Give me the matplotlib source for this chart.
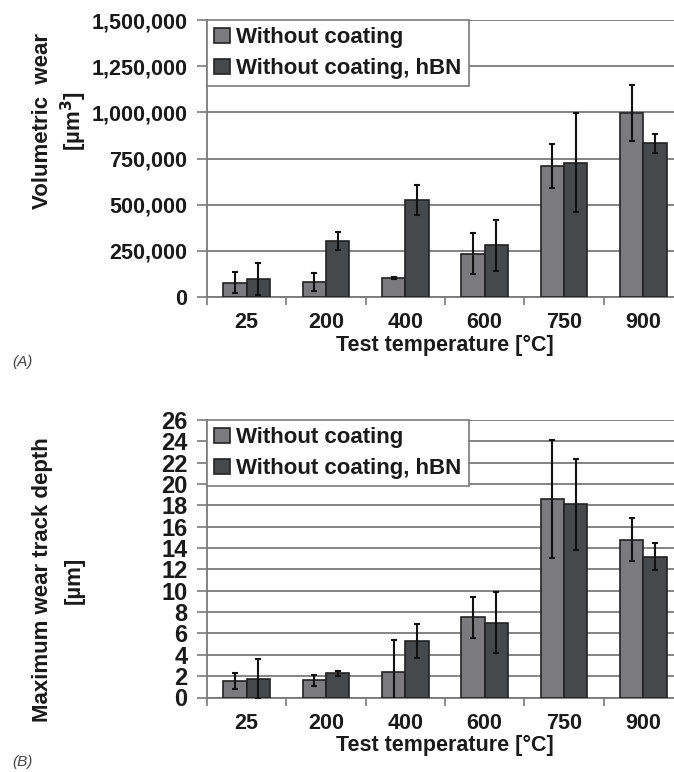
import matplotlib
matplotlib.use("Agg")
import matplotlib.pyplot as plt
import numpy as np
from matplotlib.ticker import FuncFormatter

plt.rcParams['font.family'] = ['Liberation Sans', 'DejaVu Sans']

categories = ["25", "200", "400", "600", "750", "900"]
series_names = ["Without coating", "Without coating, hBN"]

vol_plain = [78000, 82000, 101000, 234000, 710000, 996000]
vol_plain_err = [55000, 50000, 5000, 112000, 118000, 150000]
vol_hbn = [96000, 303000, 525000, 279000, 727000, 832000]
vol_hbn_err = [87000, 49000, 80000, 139000, 269000, 52000]

depth_plain = [1.5, 1.6, 2.35, 7.5, 18.6, 14.8]
depth_plain_err = [0.75, 0.55, 3.0, 1.9, 5.5, 2.0]
depth_hbn = [1.75, 2.25, 5.3, 7.0, 18.1, 13.2]
depth_hbn_err = [1.9, 0.2, 1.6, 2.85, 4.25, 1.25]

vol_ticks = [0, 250000, 500000, 750000, 1000000, 1250000, 1500000]
depth_ticks = list(range(0, 27, 2))

c_plain = "#7b7b7e"
c_hbn = "#47484a"
edge = "#222222"
grid_c = "#7a7a7a"
txt_c = "#1a1a1a"
FS = 15.5

fig = plt.figure(figsize=(6.74, 7.72), dpi=100)
W, H = 674, 772

def make_ax(top_px, bot_px):
    left = 207 / W
    width = 476 / W
    return fig.add_axes([left, 1 - bot_px / H, width, (bot_px - top_px) / H])

def draw(ax, a, ae, b, be, ticks, fmt, yfs):
    x = np.arange(len(categories))
    w = 0.295
    ekw = dict(ecolor="#111111", elinewidth=1.5, capsize=2.5, capthick=1.5)
    ax.bar(x - w / 2, a, w, color=c_plain, edgecolor=edge, linewidth=1.2,
           yerr=ae, error_kw=ekw, label=series_names[0], zorder=3)
    ax.bar(x + w / 2, b, w, color=c_hbn, edgecolor=edge, linewidth=1.2,
           yerr=be, error_kw=ekw, label=series_names[1], zorder=3)
    ax.set_xlim(-0.5, len(categories) - 0.5)
    ax.set_ylim(ticks[0], ticks[-1])
    ax.set_yticks(ticks)
    ax.yaxis.set_major_formatter(FuncFormatter(fmt))
    ax.set_xticks(x)
    ax.set_xticklabels(categories, fontsize=FS, fontweight="bold", color=txt_c)
    ax.set_xticks(np.arange(len(categories) + 1) - 0.5, minor=True)
    ax.tick_params(axis="x", which="major", length=0, pad=11)
    ax.tick_params(axis="x", which="minor", length=6, width=1.2, color=grid_c, direction="out")
    ax.tick_params(axis="y", length=7, width=1.2, color=grid_c, direction="out",
                   labelsize=yfs, labelcolor=txt_c, pad=7)
    for lbl in ax.get_yticklabels():
        lbl.set_fontweight("bold")
    ax.grid(axis="y", color=grid_c, linewidth=1.3, zorder=0)
    ax.set_axisbelow(True)
    for s in ["top", "right"]:
        ax.spines[s].set_visible(False)
    for s in ["left", "bottom"]:
        ax.spines[s].set_color(grid_c)
        ax.spines[s].set_linewidth(1.3)
    leg = ax.legend(loc="upper left", bbox_to_anchor=(0, 1), borderaxespad=0,
                    fancybox=False, framealpha=1, edgecolor=grid_c,
                    prop=dict(size=FS + 0.5, weight="bold"), handlelength=0.7, handleheight=0.7,
                    handletextpad=0.3, labelspacing=0.45, borderpad=0.32)
    leg.get_frame().set_linewidth(1.2)
    for t in leg.get_texts():
        t.set_color(txt_c)
    leg.set_zorder(5)
    ax.set_xlabel("Test temperature [°C]", fontsize=FS, fontweight="bold", color=txt_c, labelpad=1)

ax1 = make_ax(20, 297)
draw(ax1, vol_plain, vol_plain_err, vol_hbn, vol_hbn_err, vol_ticks,
     lambda v, p: f"{int(v):,}", FS)
ax2 = make_ax(420, 697.5)
draw(ax2, depth_plain, depth_plain_err, depth_hbn, depth_hbn_err, depth_ticks,
     lambda v, p: f"{int(v)}", FS + 1.5)

fig.text(43 / W, 1 - 121 / H, "Volumetric  wear", rotation=90, ha="center", va="center",
         fontsize=FS + 0.5, fontweight="bold", color=txt_c)
fig.text(74 / W, 1 - 121 / H, "[µm$^\\mathbf{3}$]", rotation=90, ha="center", va="center",
         fontsize=FS + 0.5, fontweight="bold", color=txt_c)
fig.text(43 / W, 1 - 580 / H, "Maximum wear track depth", rotation=90, ha="center", va="center",
         fontsize=FS + 0.5, fontweight="bold", color=txt_c)
fig.text(74 / W, 1 - 580 / H, "[µm]", rotation=90, ha="center", va="center",
         fontsize=FS + 0.5, fontweight="bold", color=txt_c)

fig.text(12 / W, 1 - 362 / H, "(A)", ha="left", va="center", fontsize=11,
         style="italic", color="#444444")
fig.text(12 / W, 1 - 762 / H, "(B)", ha="left", va="center", fontsize=11,
         style="italic", color="#444444")

fig.savefig("out.png", dpi=100)
